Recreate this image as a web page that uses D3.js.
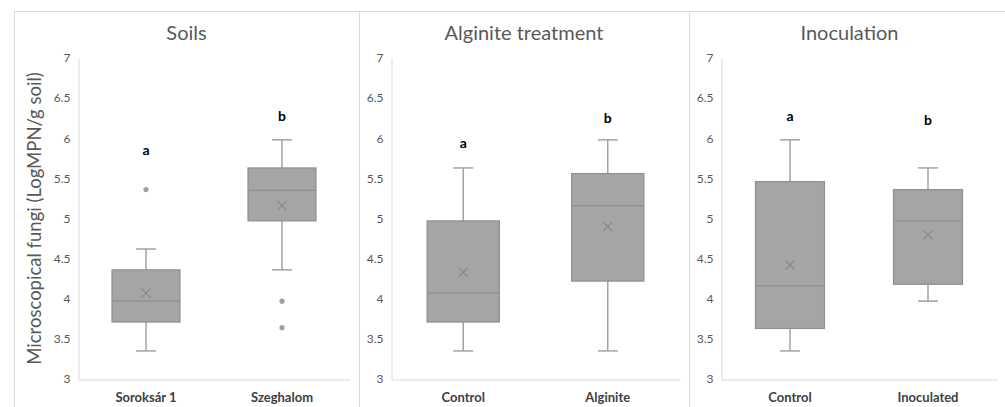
<!DOCTYPE html>
<html><head><meta charset="utf-8">
<script src="https://cdn.jsdelivr.net/npm/d3@7"></script>
<style>body{margin:0;background:#fff}svg{display:block}</style>
</head><body>
<script>
const panelTitles = ["Soils", "Alginite treatment", "Inoculation"];
const categories = [["Soroksár 1", "Szeghalom"], ["Control", "Alginite"], ["Control", "Inoculated"]];
const whiskerLow = [[3.35, 4.36], [3.35, 3.35], [3.35, 3.97]];
const q1 = [[3.71, 4.97], [3.71, 4.22], [3.63, 4.18]];
const median = [[3.97, 5.35], [4.07, 5.16], [4.16, 4.97]];
const q3 = [[4.36, 5.63], [4.97, 5.56], [5.46, 5.36]];
const whiskerHigh = [[4.62, 5.98], [5.63, 5.98], [5.98, 5.63]];
const mean = [[4.07, 5.16], [4.33, 4.90], [4.42, 4.80]];
const outliers = [[[5.36], [3.97, 3.64]], [[], []], [[], []]];
const letters = [["a", "b"], ["a", "b"], ["a", "b"]];
const letterY = [[5.85, 6.27], [5.94, 6.25], [6.27, 6.22]];
const yTicks = [3, 3.5, 4, 4.5, 5, 5.5, 6, 6.5, 7];
const yLabel = "Microscopical fungi (LogMPN/g soil)";

const W = 1005, H = 407;
const svg = d3.select("body").append("svg").attr("width", W).attr("height", H);
const font = "Lato, 'Open Sans', sans-serif";

const frames = [[14, 359], [359, 689], [689, 1010]];
const plotX = [[78, 350], [391, 680], [721, 997]];
const y = d3.scaleLinear().domain([3, 7]).range([379, 58]);

const gridC = "#d9d9d9", boxFill = "#a5a5a5", boxStroke = "#8f8f8f", whiskC = "#a3a3a3";

panelTitles.forEach((title, p) => {
  const [fx0, fx1] = frames[p];
  svg.append("rect").attr("x", fx0 + 0.5).attr("y", 11.5).attr("width", fx1 - fx0).attr("height", H + 10)
    .attr("fill", "none").attr("stroke", gridC).attr("stroke-width", 1);
  svg.append("text").attr("x", (fx0 + fx1) / 2).attr("y", 39.5).attr("text-anchor", "middle")
    .attr("font-family", font).attr("font-size", 20).attr("fill", "#595959").text(title);

  const [px0, px1] = plotX[p];
  const x = d3.scaleBand().domain(categories[p]).range([px0, px1]).paddingInner(0).paddingOuter(0);
  const g = svg.append("g");

  const yAxis = d3.axisLeft(y).tickValues(yTicks).tickSize(0).tickPadding(8).tickFormat(d3.format("~g"));
  const ya = g.append("g").attr("transform", `translate(${px0 + 0.5},0)`).call(yAxis);
  ya.select(".domain").attr("stroke", gridC);
  ya.selectAll("text").attr("font-family", font).attr("font-size", 12).attr("fill", "#595959");

  const xAxis = d3.axisBottom(x).tickSize(0).tickPadding(13);
  const xa = g.append("g").attr("transform", `translate(0,${y(3) + 0.5})`).call(xAxis);
  xa.select(".domain").attr("stroke", gridC);
  xa.selectAll("text").attr("font-family", font).attr("font-size", 13).attr("font-weight", "bold").attr("fill", "#404040");

  const bw = x.bandwidth() * 0.5;
  categories[p].forEach((c, i) => {
    const cx = x(c) + x.bandwidth() / 2;
    const cap = 20;
    g.append("line").attr("x1", cx).attr("x2", cx).attr("y1", y(whiskerHigh[p][i])).attr("y2", y(q3[p][i]))
      .attr("stroke", whiskC).attr("stroke-width", 1.5);
    g.append("line").attr("x1", cx).attr("x2", cx).attr("y1", y(q1[p][i])).attr("y2", y(whiskerLow[p][i]))
      .attr("stroke", whiskC).attr("stroke-width", 1.5);
    g.append("line").attr("x1", cx - cap / 2).attr("x2", cx + cap / 2).attr("y1", y(whiskerHigh[p][i])).attr("y2", y(whiskerHigh[p][i]))
      .attr("stroke", whiskC).attr("stroke-width", 1.5);
    g.append("line").attr("x1", cx - cap / 2).attr("x2", cx + cap / 2).attr("y1", y(whiskerLow[p][i])).attr("y2", y(whiskerLow[p][i]))
      .attr("stroke", whiskC).attr("stroke-width", 1.5);
    g.append("rect").attr("x", cx - bw / 2).attr("y", y(q3[p][i])).attr("width", bw).attr("height", y(q1[p][i]) - y(q3[p][i]))
      .attr("fill", boxFill).attr("stroke", boxStroke).attr("stroke-width", 1.2);
    g.append("line").attr("x1", cx - bw / 2).attr("x2", cx + bw / 2).attr("y1", y(median[p][i])).attr("y2", y(median[p][i]))
      .attr("stroke", boxStroke).attr("stroke-width", 1.2);
    const my = y(mean[p][i]), s = 4.5;
    g.append("path").attr("d", `M${cx - s},${my - s}L${cx + s},${my + s}M${cx - s},${my + s}L${cx + s},${my - s}`)
      .attr("stroke", "#8a8a8a").attr("stroke-width", 1.2).attr("fill", "none");
    outliers[p][i].forEach(v => {
      g.append("circle").attr("cx", cx).attr("cy", y(v)).attr("r", 2.6).attr("fill", "#a0a0a0");
    });
    g.append("text").attr("x", cx).attr("y", y(letterY[p][i])).attr("dy", "0.35em").attr("text-anchor", "middle")
      .attr("font-family", font).attr("font-size", 14).attr("font-weight", "bold").attr("fill", "#000").text(letters[p][i]);
  });
});

svg.append("text").attr("transform", `translate(41,${(79 + 358) / 2}) rotate(-90)`).attr("text-anchor", "middle")
  .attr("font-family", font).attr("font-size", 18.5).attr("fill", "#595959").text(yLabel);
</script>
</body></html>
